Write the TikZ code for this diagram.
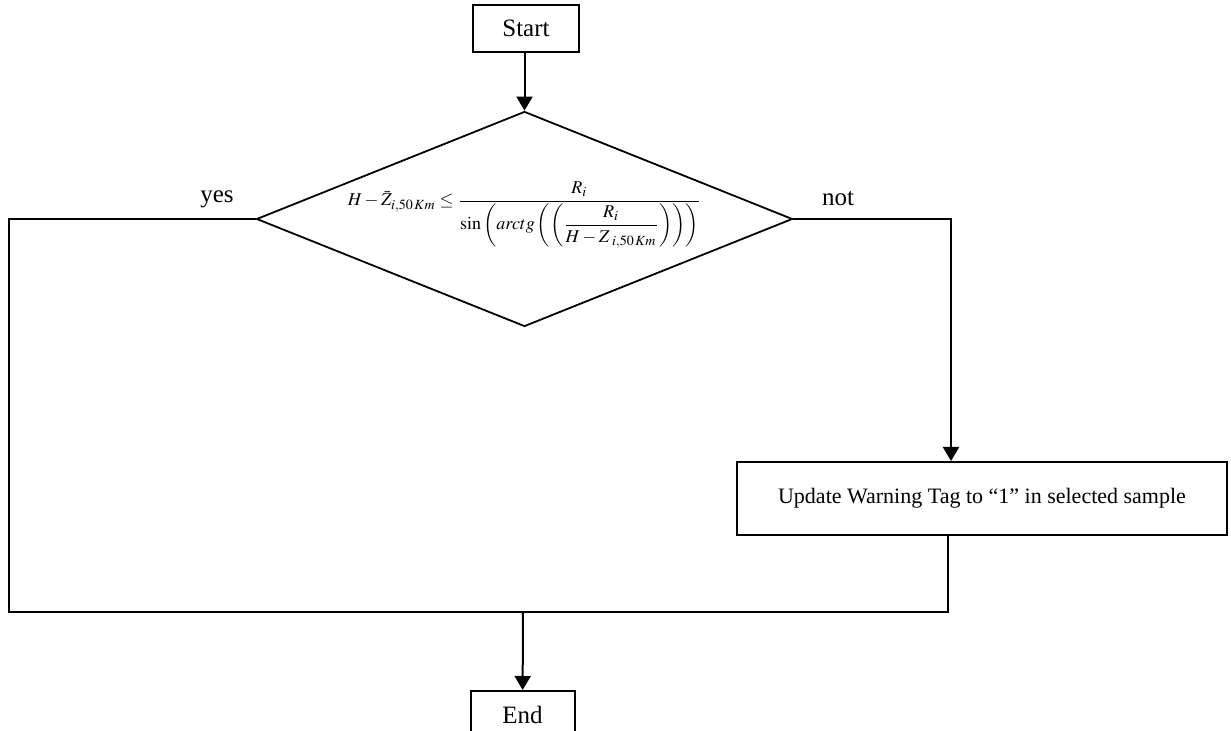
\documentclass[tikz,border=0pt]{standalone}
\usepackage{mathptmx}
\usepackage{fontspec}
\setmainfont{Liberation Serif}
\usetikzlibrary{arrows.meta,positioning,shapes.geometric,calc}
\tikzset{
  procbox/.style={draw=black, line width=1pt, align=center, inner sep=2pt, font=\fontsize{12.5}{14}\selectfont},
  decision/.style={diamond, draw=black, line width=0.9pt, minimum width=268pt, minimum height=107.5pt, inner sep=0pt},
  line/.style={draw=black, line width=1pt},
  arrow/.style={line, -{Triangle[length=7pt,width=8pt]}},
  lbl/.style={font=\fontsize{12.5}{14}\selectfont}
}

\begin{document}
\begin{tikzpicture}[x=0.5pt, y=-0.5pt]
  \useasboundingbox (0,0) rectangle (1231,731);
  \node[procbox, minimum width=53pt, minimum height=23.5pt] (start) at (526,28.5) {Start};
  \node[decision] (cond) at (524.5,219) {};
  \node[font=\fontsize{9}{11}\selectfont, yshift=2pt] (formula) at (cond.center)
    {$\displaystyle H-\bar{Z}_{i,50\,Km}\le\frac{R_i}{\sin\left(arctg\left(\left({\displaystyle\frac{R_i}{H-Z_{\;i,50\,Km}}}\right)\right)\right)}$};
  \node[procbox, font=\fontsize{11}{13}\selectfont, minimum width=245pt, minimum height=36.5pt] (update) at (982,498.5) {Update Warning Tag to “1” in selected sample};
  \node[procbox, minimum width=52pt, minimum height=24pt, anchor=north] (stop) at (522.5,690) {End};
  \node[lbl] (yes) at (217,199) {yes};
  \node[lbl] (not) at (838,199) {not};
  \coordinate (ljoin) at (9,612);
  \coordinate (merge) at (523,612);
  \coordinate (rdown) at (948,0);
  \coordinate (rin) at (951,0);

  \draw[arrow] (start.south -| cond.north) -- (cond.north);
  \draw[line] (cond.west) -| (ljoin) -| (update.south -| rdown);
  \draw[arrow] (cond.east) -| (update.north -| rin);
  \draw[arrow] (merge) -- (stop);
\end{tikzpicture}
\end{document}
